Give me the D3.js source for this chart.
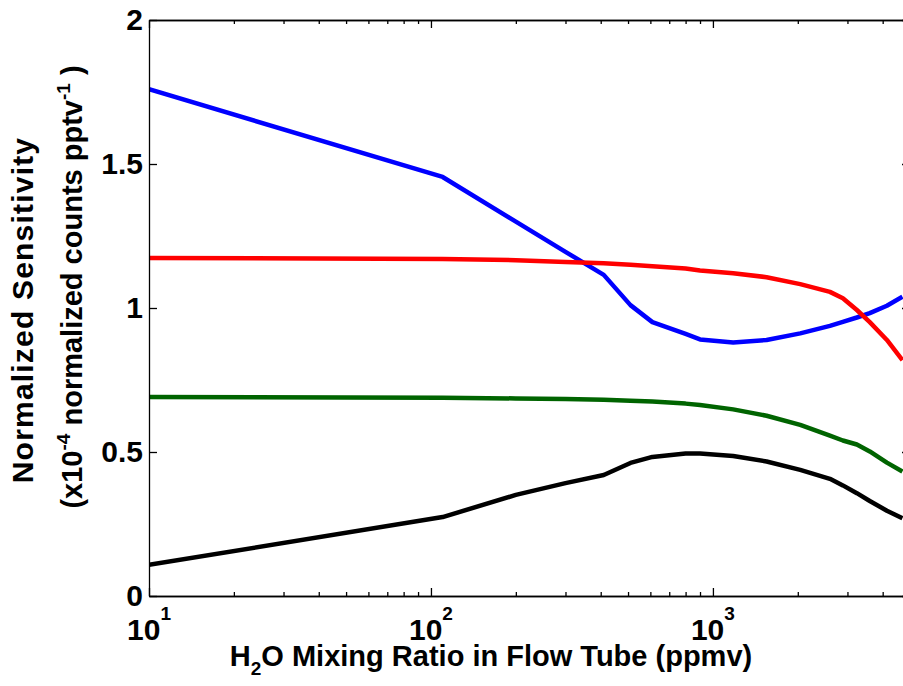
<!DOCTYPE html>
<html>
<head>
<meta charset="utf-8">
<script src="https://cdn.jsdelivr.net/npm/d3@7"></script>
<style>
  body { margin: 0; background: #fff; }
  svg { display: block; }
</style>
</head>
<body>
<script>
// H2O mixing ratio (ppmv) where the curves were read
var h2o = [10, 110, 200, 300, 410, 510, 610, 800, 900, 1180, 1550, 2040, 2600, 2890, 3240, 3600, 4140, 4700];

// normalized sensitivity (x10^-4 normalized counts pptv^-1)
var blueVals  = [1.760, 1.455, 1.300, 1.195, 1.115, 1.010, 0.951, 0.910, 0.891, 0.880, 0.889, 0.912, 0.938, 0.952, 0.967, 0.982, 1.008, 1.039];
var redVals   = [1.174, 1.170, 1.166, 1.160, 1.155, 1.150, 1.145, 1.137, 1.130, 1.121, 1.107, 1.083, 1.056, 1.034, 0.993, 0.951, 0.889, 0.819];
var greenVals = [0.691, 0.688, 0.686, 0.684, 0.681, 0.678, 0.675, 0.668, 0.663, 0.648, 0.626, 0.594, 0.557, 0.540, 0.526, 0.502, 0.463, 0.432];
var blackVals = [0.108, 0.274, 0.351, 0.392, 0.420, 0.462, 0.483, 0.495, 0.495, 0.486, 0.467, 0.438, 0.407, 0.384, 0.357, 0.330, 0.296, 0.270];

var seriesColors = ['#0000ff', '#ff0000', '#006400', '#000000'];

var xMajor = [10, 100, 1000];
var xMinor = [20, 30, 40, 50, 60, 70, 80, 90, 200, 300, 400, 500, 600, 700, 800, 900, 2000, 3000, 4000, 5000];
var yTicks = [0, 0.5, 1, 1.5, 2];

var W = 903, H = 686;
// plot box edges (right edge sits just past the picture, as in the figure)
var pLeft = 149, pTop = 20, pBottom = 596, pRight = 910;

var svg = d3.select('body').append('svg')
    .attr('width', W)
    .attr('height', H)
    .style('font-family', '"Liberation Sans", Arial, sans-serif')
    .style('font-weight', 'bold');

svg.append('rect').attr('width', W).attr('height', H).attr('fill', '#fff');

var x = d3.scaleLog().domain([10, 5000]).range([pLeft, pRight]);
var y = d3.scaleLinear().domain([0, 2]).range([pBottom, pTop]);

// curves
svg.append('clipPath').attr('id', 'plotclip')
  .append('rect')
    .attr('x', pLeft).attr('y', pTop)
    .attr('width', pRight - pLeft).attr('height', pBottom - pTop);

var line = d3.line()
    .x(function(d) { return x(d[0]); })
    .y(function(d) { return y(d[1]); });

var plot = svg.append('g').attr('clip-path', 'url(#plotclip)');

[blueVals, redVals, greenVals, blackVals].forEach(function(vals, i) {
    plot.append('path')
        .datum(h2o.map(function(v, j) { return [v, vals[j]]; }))
        .attr('fill', 'none')
        .attr('stroke', seriesColors[i])
        .attr('stroke-width', 4.5)
        .attr('stroke-linejoin', 'round')
        .attr('d', line);
});

// axes (ticks point inward, box all round)
function styleAxis(g) {
    g.selectAll('path, line').attr('stroke', '#000').attr('stroke-width', 1.3);
    g.selectAll('text').remove();
}

svg.append('g').attr('transform', 'translate(0,' + pBottom + ')')
    .call(d3.axisBottom(x).tickValues(xMajor).tickSizeInner(-8).tickSizeOuter(0))
    .call(styleAxis);
svg.append('g').attr('transform', 'translate(0,' + pBottom + ')')
    .call(d3.axisBottom(x).tickValues(xMinor).tickSizeInner(-4).tickSizeOuter(0))
    .call(styleAxis);
svg.append('g').attr('transform', 'translate(0,' + pTop + ')')
    .call(d3.axisTop(x).tickValues(xMajor).tickSizeInner(-8).tickSizeOuter(0))
    .call(styleAxis);
svg.append('g').attr('transform', 'translate(0,' + pTop + ')')
    .call(d3.axisTop(x).tickValues(xMinor).tickSizeInner(-4).tickSizeOuter(0))
    .call(styleAxis);
svg.append('g').attr('transform', 'translate(' + pRight + ',0)')
    .call(d3.axisRight(y).tickValues(yTicks).tickSizeInner(-8).tickSizeOuter(0))
    .call(styleAxis);

var yAxis = svg.append('g').attr('transform', 'translate(' + pLeft + ',0)')
    .call(d3.axisLeft(y).tickValues(yTicks).tickSizeInner(-8).tickSizeOuter(0)
        .tickPadding(6).tickFormat(d3.format('')));
yAxis.selectAll('path, line').attr('stroke', '#000').attr('stroke-width', 1.3);
yAxis.selectAll('text')
    .attr('fill', '#000')
    .style('font-size', '30px')
    .style('font-weight', 'bold')
    .style('font-family', '"Liberation Sans", Arial, sans-serif');

// x tick labels 10^n
var xl = svg.append('g')
    .attr('text-anchor', 'middle')
    .attr('font-size', '30px');

xMajor.forEach(function(v) {
    var t = xl.append('text')
        .attr('x', x(v))
        .attr('y', 640);
    t.append('tspan').text('10');
    t.append('tspan')
        .attr('font-size', '19px')
        .attr('dy', -20)
        .text(Math.round(Math.log10(v)));
});

// x label
var xt = svg.append('text')
    .attr('x', 491)
    .attr('y', 666)
    .attr('text-anchor', 'middle')
    .attr('font-size', '29px');
xt.append('tspan').text('H');
xt.append('tspan').attr('font-size', '19px').attr('dy', 9).text('2');
xt.append('tspan').attr('dy', -9).text('O Mixing Ratio in Flow Tube (ppmv)');

// y label, two lines
svg.append('text')
    .attr('transform', 'translate(33,310) rotate(-90)')
    .attr('text-anchor', 'middle')
    .attr('font-size', '30px')
    .attr('letter-spacing', '1.2px')
    .text('Normalized Sensitivity');

var yt = svg.append('text')
    .attr('transform', 'translate(82,287) rotate(-90)')
    .attr('text-anchor', 'middle')
    .attr('font-size', '29px');
yt.append('tspan').text('(x10');
yt.append('tspan').attr('font-size', '19px').attr('dy', -12).text('-4');
yt.append('tspan').attr('dy', 12).text(' normalized counts pptv');
yt.append('tspan').attr('font-size', '19px').attr('dy', -12).text('-1');
yt.append('tspan').attr('dy', 12).text(' )');
</script>
</body>
</html>
